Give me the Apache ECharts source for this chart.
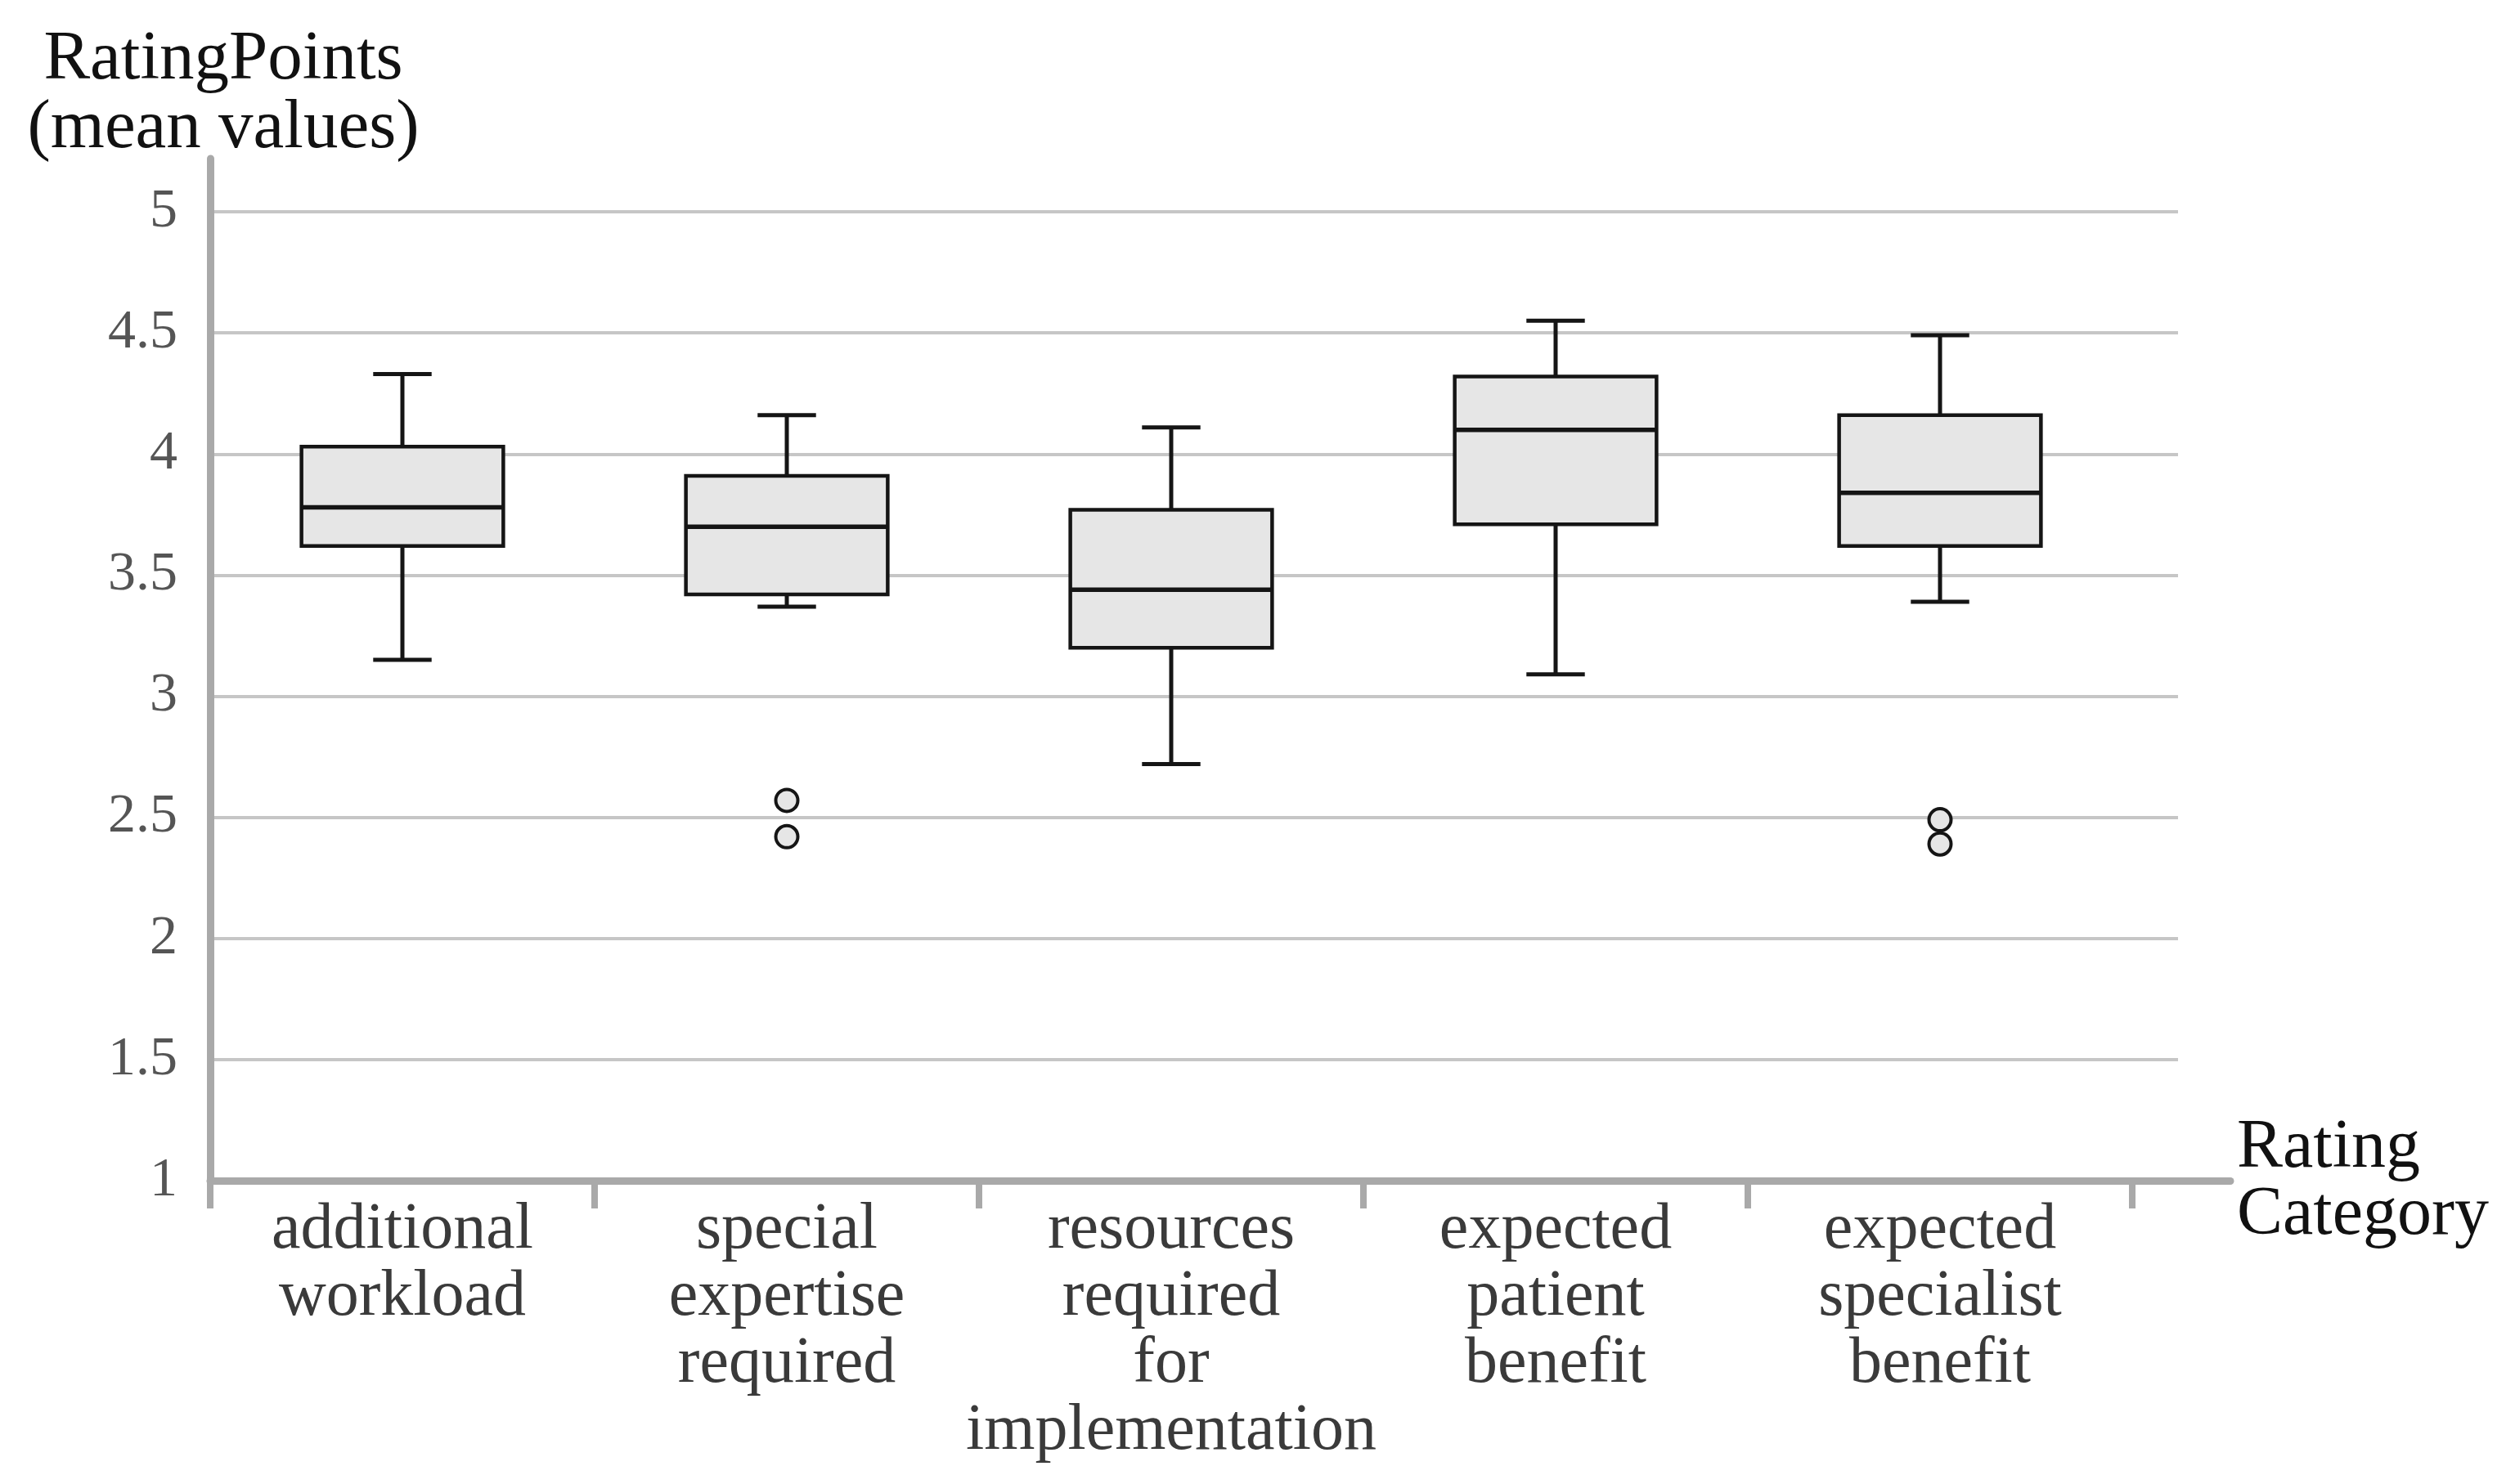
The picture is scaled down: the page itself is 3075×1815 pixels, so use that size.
<!DOCTYPE html>
<html>
<head>
<meta charset="utf-8">
<script src="https://cdn.jsdelivr.net/npm/echarts@6/dist/echarts.min.js"></script>
<style>
html,body{margin:0;padding:0;background:#fff;}
#chart{width:3075px;height:1815px;}
</style>
</head>
<body>
<div id="chart"></div>
<script>
const categories = ['additional\nworkload', 'special\nexpertise\nrequired', 'resources\nrequired\nfor\nimplementation', 'expected\npatient\nbenefit', 'expected\nspecialist\nbenefit'];
const lowWhisker = [3.15, 3.37, 2.72, 3.09, 3.39];
const q1Values = [3.62, 3.42, 3.20, 3.71, 3.62];
const medians = [3.78, 3.70, 3.44, 4.10, 3.84];
const q3Values = [4.03, 3.91, 3.77, 4.32, 4.16];
const highWhisker = [4.33, 4.16, 4.11, 4.55, 4.49];
const outliers = [[1, 2.57], [1, 2.42], [4, 2.49], [4, 2.39]];
const yTicks = [1, 1.5, 2, 2.5, 3, 3.5, 4, 4.5, 5];

const boxData = categories.map((c, i) => [i, lowWhisker[i], q1Values[i], medians[i], q3Values[i], highWhisker[i]]);

const FONT = '"Liberation Serif", "Times New Roman", serif';
const axisGrey = '#a9a9a9';
const gridGrey = '#c6c6c6';
const ink = '#151515';

const chart = echarts.init(document.getElementById('chart'));
chart.setOption({
  backgroundColor: '#ffffff',
  animation: false,
  grid: [
    {left: 257, top: 259, width: 2350, height: 1185},
    {left: 257, top: 259, width: 2406, height: 1185},
    {left: 257, top: 194, width: 2470, height: 1250}
  ],
  xAxis: [
    {
      type: 'category', gridIndex: 0, data: categories, boundaryGap: true,
      axisLine: {show: false},
      axisTick: {show: true, length: 34, lineStyle: {color: axisGrey, width: 8}},
      axisLabel: {show: true, margin: 20, fontFamily: FONT, fontSize: 80, lineHeight: 82, color: '#3a3a3a', interval: 0},
      splitLine: {show: false}
    },
    {type: 'value', gridIndex: 1, min: 0, max: 1, show: false},
    {
      type: 'value', gridIndex: 2, min: 0, max: 1,
      axisLine: {show: true, onZero: false, lineStyle: {color: axisGrey, width: 9}},
      axisTick: {show: false}, axisLabel: {show: false}, splitLine: {show: false}
    }
  ],
  yAxis: [
    {
      type: 'value', gridIndex: 0, min: yTicks[0], max: yTicks[yTicks.length - 1], interval: 0.5,
      axisLine: {show: false}, axisTick: {show: false}, splitLine: {show: false},
      axisLabel: {show: true, margin: 40, fontFamily: FONT, fontSize: 68, color: '#555555',
        formatter: v => String(v)}
    },
    {
      type: 'value', gridIndex: 1, min: yTicks[0], max: yTicks[yTicks.length - 1], interval: 0.5,
      axisLine: {show: false}, axisTick: {show: false}, axisLabel: {show: false},
      splitLine: {show: true, lineStyle: {color: gridGrey, width: 4}}
    },
    {
      type: 'value', gridIndex: 2, min: 0, max: 1,
      axisLine: {show: true, onZero: false, lineStyle: {color: axisGrey, width: 9}},
      axisTick: {show: false}, axisLabel: {show: false}, splitLine: {show: false}
    }
  ],
  graphic: [
    {type: 'text', x: 273, y: 116, z: 10,
      style: {text: 'RatingPoints\n(mean values)', font: '85px ' + FONT, lineHeight: 84, fill: '#111', align: 'center', verticalAlign: 'middle', textAlign: 'center', textVerticalAlign: 'middle'}},
    {type: 'text', x: 2735, y: 1446, z: 10,
      style: {text: 'Rating\nCategory', font: '84px ' + FONT, lineHeight: 82, fill: '#111', align: 'left', verticalAlign: 'middle', textAlign: 'left', textVerticalAlign: 'middle'}}
  ],
  series: [
    {
      type: 'custom', xAxisIndex: 0, yAxisIndex: 0, z: 5,
      data: boxData,
      encode: {x: 0, y: [1, 2, 3, 4, 5]},
      renderItem: function (params, api) {
        const idx = api.value(0);
        const low = api.coord([idx, api.value(1)]);
        const q1 = api.coord([idx, api.value(2)]);
        const med = api.coord([idx, api.value(3)]);
        const q3 = api.coord([idx, api.value(4)]);
        const high = api.coord([idx, api.value(5)]);
        const band = api.size([1, 0])[0];
        const bw = band * 0.525;
        const cw = band * 0.152;
        const cx = med[0];
        const ls = {stroke: ink, lineWidth: 5};
        return {
          type: 'group',
          children: [
            {type: 'line', shape: {x1: cx, y1: high[1], x2: cx, y2: q3[1]}, style: ls},
            {type: 'line', shape: {x1: cx, y1: q1[1], x2: cx, y2: low[1]}, style: ls},
            {type: 'line', shape: {x1: cx - cw / 2, y1: high[1], x2: cx + cw / 2, y2: high[1]}, style: ls},
            {type: 'line', shape: {x1: cx - cw / 2, y1: low[1], x2: cx + cw / 2, y2: low[1]}, style: ls},
            {type: 'rect', shape: {x: cx - bw / 2, y: q3[1], width: bw, height: q1[1] - q3[1]},
              style: {fill: '#e6e6e6', stroke: ink, lineWidth: 4.5}},
            {type: 'line', shape: {x1: cx - bw / 2, y1: med[1], x2: cx + bw / 2, y2: med[1]}, style: {stroke: ink, lineWidth: 5.5}}
          ]
        };
      }
    },
    {
      type: 'scatter', xAxisIndex: 0, yAxisIndex: 0, z: 6,
      data: outliers,
      symbol: 'circle', symbolSize: 27,
      itemStyle: {color: '#e6e6e6', borderColor: ink, borderWidth: 4, opacity: 1}
    }
  ]
});
</script>
</body>
</html>
